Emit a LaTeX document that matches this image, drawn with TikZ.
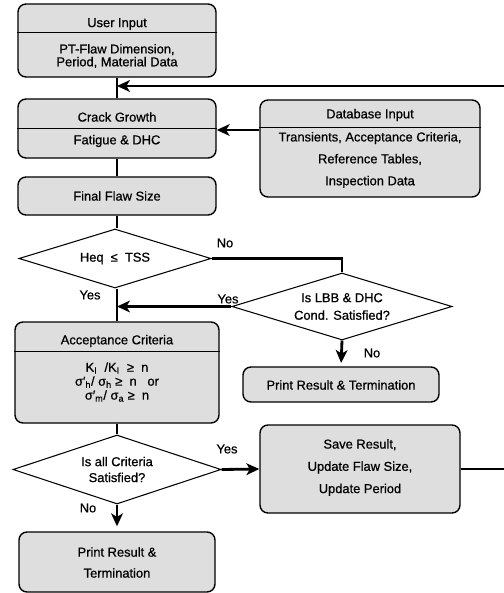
\documentclass[tikz,border=0pt]{standalone}
\usepackage{fontspec}
\setmainfont{Liberation Sans}
\newfontfamily\heavysans{Liberation Sans}[FakeBold=0.7]
\usetikzlibrary{shapes,arrows.meta,positioning}

\tikzset{
  box/.style={draw, line width=1.2pt, rounded corners=0.24cm, fill=black!13, inner sep=0pt},
  dec/.style={draw, diamond, shape aspect=3.2, line width=0.9pt, fill=white, inner sep=0pt, align=center,
    font=\heavysans\fontsize{11}{15}\selectfont},
  txt/.style={inner sep=0pt, align=center, font=\heavysans\fontsize{11}{11}\selectfont},
  sep/.style={line width=0.8pt},
  flow/.style={line width=2.4pt},
  arr/.style={flow, -{Stealth[length=11pt, width=10pt, inset=3pt]}},
  lbl/.style={inner sep=0pt, font=\heavysans\fontsize{11}{13}\selectfont},
}

\begin{document}
\begin{tikzpicture}[x=0.03cm, y=-0.03cm]
  \useasboundingbox (0,0) rectangle (503,593);

  % boxes
  \node[box, minimum width=5.94cm, minimum height=2.19cm] (ui) at (117,40.5) {};
  \node[box, minimum width=5.94cm, minimum height=1.77cm] (cg) at (117,128.5) {};
  \node[box, minimum width=6.6cm, minimum height=2.91cm] (db) at (370,148.5) {};
  \node[box, minimum width=5.94cm, minimum height=1.14cm] (ffs) at (117,196) {};
  \node[dec, minimum width=5.76cm, minimum height=1.77cm] (heq) at (115,258.5) {Heq \ ≤ \ TSS};
  \node[dec, minimum width=6.6cm, minimum height=2.01cm] (lbb) at (342,306.5) {Is LBB \& DHC\\Cond. Satisfied?};
  \node[box, minimum width=5.88cm, minimum height=1.05cm] (prt1) at (341,384.5) {};
  \node[box, minimum width=6.12cm, minimum height=3.03cm] (acc) at (117,372.5) {};
  \node[dec, shape aspect=3, minimum width=6.24cm, minimum height=2.07cm, font=\heavysans\fontsize{11}{13.6}\selectfont] (crit) at (117,469.5) {Is all Criteria\\Satisfied?};
  \node[box, minimum width=6cm, minimum height=2.64cm] (save) at (360,469) {};
  \node[box, minimum width=5.88cm, minimum height=1.8cm] (prt2) at (117,562) {};

  % texts
  \node[txt] (uit) at (117,24) {User Input};
  \node[txt] (uib) at (117,56) {PT-Flaw Dimension,\\Period, Material Data};
  \node[txt] (cgt) at (117,117) {Crack Growth};
  \node[txt] (cgb) at (117,141) {Fatigue \& DHC};
  \node[txt] (dbt) at (370,115) {Database Input};
  \node[txt, font=\heavysans\fontsize{11}{18.7}\selectfont] (dbb) at (370,160) {Transients, Acceptance Criteria,\\Reference Tables,\\Inspection Data};
  \node[txt] (ffst) at (117,196) {Final Flaw Size};
  \node[txt] (prt1t) at (341,385) {Print Result \& Termination};
  \node[txt] (acct) at (117,341) {Acceptance Criteria};
  \node[txt, font=\heavysans\fontsize{11}{11.9}\selectfont] (accb) at (117,382)
    {K\textsubscript{I}\ \ /K\textsubscript{I}\ \ ≥\ \ n\\
     σ′\textsubscript{h}/ σ\textsubscript{h}\ ≥\ \ n\ \ \ or\\
     σ′\textsubscript{m}/ σ\textsubscript{a}\ ≥\ \ n};
  \node[txt, font=\heavysans\fontsize{11}{19}\selectfont] (savet) at (360,467.5) {Save Result,\\Update Flaw Size,\\Update Period};
  \node[txt, font=\heavysans\fontsize{11}{17.9}\selectfont] (prt2t) at (117,562.5) {Print Result \&\\Termination};

  % separators
  \draw[sep] (ui.west |- 0,32) -- (ui.east |- 0,32);
  \draw[sep] (cg.west |- 0,128) -- (cg.east |- 0,128);
  \draw[sep] (db.west |- 0,127) -- (db.east |- 0,127);
  \draw[sep] (acc.west |- 0,351) -- (acc.east |- 0,351);

  % connectors
  \coordinate (la) at (505,469);
  \coordinate (lb) at (505,86);
  \draw[flow] (ui.south) -- (cg.north);
  \draw[arr] (save.east) -- (la) -- (lb) -- (lb -| ui.south);
  \draw[arr] (db.west |- 0,130) -- (cg.east |- 0,130);
  \draw[flow] (cg.south) -- (ffs.north);
  \draw[flow] (ffs.south) -- (ffs.south |- heq.north);
  \draw[flow] (ffs.south |- heq.south) -- (acc.north);
  \draw[flow] (heq.east) -| (lbb.north);
  \draw[arr] (lbb.west) -- (lbb.west -| acc.north);
  \draw[arr, shorten >=1mm] (lbb.south) -- (prt1.north);
  \draw[flow] (acc.south) -- (crit.north);
  \draw[arr] (crit.east) -- (save.west);
  \draw[arr, shorten >=1.5mm] (crit.south) -- (prt2.north);

  % labels
  \node[lbl] (no1) at (225,243) {No};
  \node[lbl] (yes1) at (90,295) {Yes};
  \node[lbl] (yes2) at (228,299) {Yes};
  \node[lbl] (no2) at (372,353) {No};
  \node[lbl] (yes3) at (227,449) {Yes};
  \node[lbl] (no3) at (88,508) {No};
\end{tikzpicture}
\end{document}
